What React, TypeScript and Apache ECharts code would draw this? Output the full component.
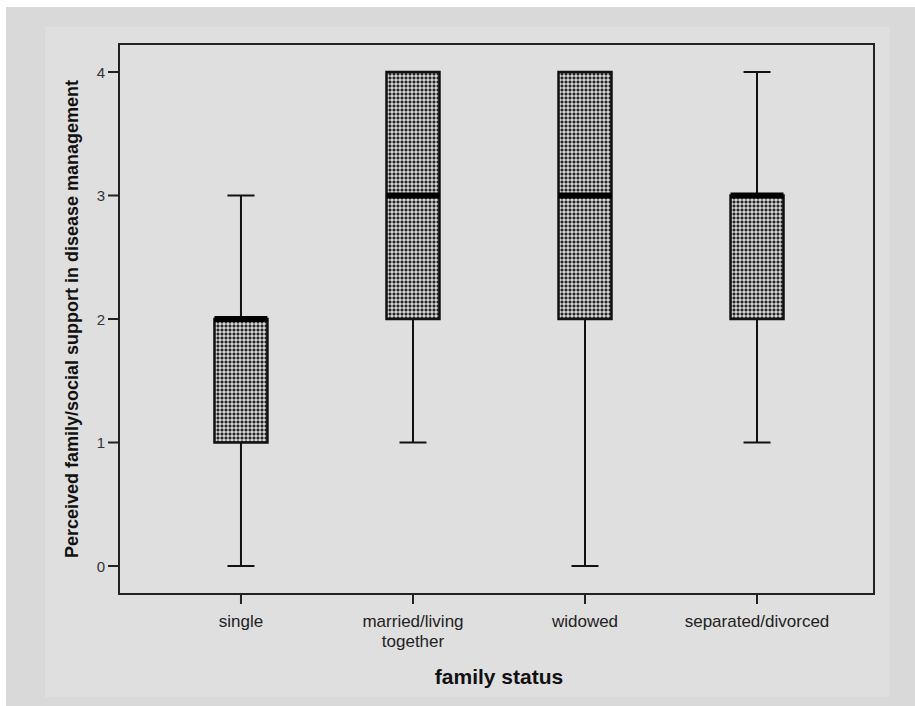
import React, { useEffect, useRef } from "react";
import * as echarts from "echarts";

const categories = ["single", "married/living\ntogether", "widowed", "separated/divorced"];
const minimums = [0, 1, 0, 1];
const lowerQuartiles = [1, 2, 2, 2];
const medians = [2, 3, 3, 3];
const upperQuartiles = [2, 4, 4, 3];
const maximums = [3, 4, 4, 4];
const yTicks = [0, 1, 2, 3, 4];
const categoryPositions = [0, 1, 2, 3];

const X_MIN = -0.709;
const X_MAX = 3.68;
const Y_MIN = -0.2267;
const Y_MAX = 4.2267;

function makePattern(): HTMLCanvasElement {
  const c = document.createElement("canvas");
  c.width = 4;
  c.height = 4;
  const ctx = c.getContext("2d")!;
  ctx.fillStyle = "#d4d4d4";
  ctx.fillRect(0, 0, 4, 4);
  ctx.fillStyle = "#8c8c8c";
  ctx.fillRect(0, 1, 4, 2);
  ctx.fillRect(1, 0, 2, 4);
  ctx.fillStyle = "#262626";
  ctx.fillRect(1, 1, 2, 2);
  return c;
}

export default function App() {
  const ref = useRef<HTMLDivElement>(null);
  useEffect(() => {
    document.body.style.margin = "0";
    if (!ref.current) return;
    const chart = echarts.init(ref.current, undefined, { renderer: "svg" });
    const pattern = { image: makePattern(), repeat: "repeat" };
    const data = categories.map((_, i) => [
      categoryPositions[i],
      minimums[i],
      lowerQuartiles[i],
      medians[i],
      upperQuartiles[i],
      maximums[i],
    ]);
    const font = "'Liberation Sans', Arial, Helvetica, sans-serif";
    const tickStyle = { stroke: "#222", lineWidth: 2 };
    chart.setOption({
      animation: false,
      backgroundColor: "transparent",
      textStyle: { fontFamily: font },
      graphic: [
        {
          type: "rect",
          z: 100,
          shape: { x: 119, y: 44, width: 755, height: 550 },
          style: { fill: "none", stroke: "#222", lineWidth: 2 },
        },
      ],
      grid: [
        { left: 119, right: 41, top: 44, bottom: 112 },
        { left: 119, right: 41, top: 72, bottom: 140 },
        { left: 155, right: 72, top: 44, bottom: 112 },
      ],
      xAxis: [
        { gridIndex: 0, type: "value", min: X_MIN, max: X_MAX, show: false },
        { gridIndex: 1, type: "value", min: 0, max: 1, show: false },
        {
          gridIndex: 2,
          type: "category",
          data: categories,
          boundaryGap: true,
          axisLine: { show: false },
          axisTick: { show: false },
          axisLabel: {
            interval: 0,
            color: "#222",
            fontSize: 17,
            margin: 17,
            lineHeight: 20,
            fontFamily: font,
          },
          name: "family status",
          nameLocation: "middle",
          nameGap: 72,
          nameTextStyle: { fontSize: 21, fontWeight: "bold", color: "#111", fontFamily: font },
        },
      ],
      yAxis: [
        { gridIndex: 0, type: "value", min: Y_MIN, max: Y_MAX, show: false },
        {
          gridIndex: 1,
          type: "value",
          min: yTicks[0],
          max: yTicks[yTicks.length - 1],
          interval: 1,
          splitLine: { show: false },
          axisLine: { show: false },
          axisTick: { show: false },
          axisLabel: { color: "#333", fontSize: 15, margin: 14, fontFamily: font },
          name: "Perceived family/social support in disease management",
          nameLocation: "middle",
          nameGap: 38,
          nameTextStyle: { fontSize: 18, fontWeight: "bold", color: "#111", fontFamily: font },
        },
        { gridIndex: 2, type: "value", min: 0, max: 1, show: false },
      ],
      series: [
        {
          type: "custom",
          name: "xTicks",
          xAxisIndex: 0,
          yAxisIndex: 0,
          silent: true,
          clip: false,
          z: 20,
          data: categoryPositions.map((p) => [p, Y_MIN]),
          encode: { x: 0, y: 1 },
          renderItem: (params: any, api: any) => {
            const pt = api.coord([api.value(0), api.value(1)]);
            return {
              type: "line",
              shape: { x1: pt[0], y1: pt[1], x2: pt[0], y2: pt[1] + 10 },
              style: tickStyle,
            };
          },
        },
        {
          type: "custom",
          name: "yTicks",
          xAxisIndex: 0,
          yAxisIndex: 0,
          silent: true,
          clip: false,
          z: 20,
          data: yTicks.map((v) => [X_MIN, v]),
          encode: { x: 0, y: 1 },
          renderItem: (params: any, api: any) => {
            const pt = api.coord([api.value(0), api.value(1)]);
            return {
              type: "line",
              shape: { x1: pt[0] - 11, y1: pt[1], x2: pt[0], y2: pt[1] },
              style: tickStyle,
            };
          },
        },
        {
          type: "custom",
          name: "boxes",
          xAxisIndex: 0,
          yAxisIndex: 0,
          data,
          encode: { x: 0, y: [1, 2, 3, 4, 5] },
          renderItem: (params: any, api: any) => {
            const i = api.value(0);
            const lo = api.coord([i, api.value(1)]);
            const q1 = api.coord([i, api.value(2)]);
            const md = api.coord([i, api.value(3)]);
            const q3 = api.coord([i, api.value(4)]);
            const hi = api.coord([i, api.value(5)]);
            const band = api.size([1, 0])[0];
            const bw = band * 0.308;
            const cw = band * 0.157;
            const x = lo[0];
            const lineStyle = { stroke: "#111", lineWidth: 2 };
            return {
              type: "group",
              children: [
                { type: "line", shape: { x1: x, y1: hi[1], x2: x, y2: q3[1] }, style: lineStyle },
                { type: "line", shape: { x1: x, y1: q1[1], x2: x, y2: lo[1] }, style: lineStyle },
                { type: "line", shape: { x1: x - cw / 2, y1: hi[1], x2: x + cw / 2, y2: hi[1] }, style: lineStyle },
                { type: "line", shape: { x1: x - cw / 2, y1: lo[1], x2: x + cw / 2, y2: lo[1] }, style: lineStyle },
                {
                  type: "rect",
                  shape: { x: x - bw / 2, y: q3[1], width: bw, height: q1[1] - q3[1] },
                  style: { fill: pattern, stroke: "#111", lineWidth: 2.5 },
                },
                {
                  type: "line",
                  shape: { x1: x - bw / 2, y1: md[1], x2: x + bw / 2, y2: md[1] },
                  style: { stroke: "#000", lineWidth: 6 },
                },
              ],
            };
          },
        },
      ],
    });
    return () => chart.dispose();
  }, []);
  return (
    <div style={{ position: "relative", width: 915, height: 706, background: "#ffffff", overflow: "hidden" }}>
      <div style={{ position: "absolute", left: 6, top: 7, width: 909, height: 699, background: "#d9d9d9" }} />
      <div style={{ position: "absolute", left: 45, top: 27, width: 845, height: 670, background: "#dfdfdf" }} />
      <div ref={ref} style={{ position: "absolute", left: 0, top: 0, width: 915, height: 706 }} />
    </div>
  );
}
